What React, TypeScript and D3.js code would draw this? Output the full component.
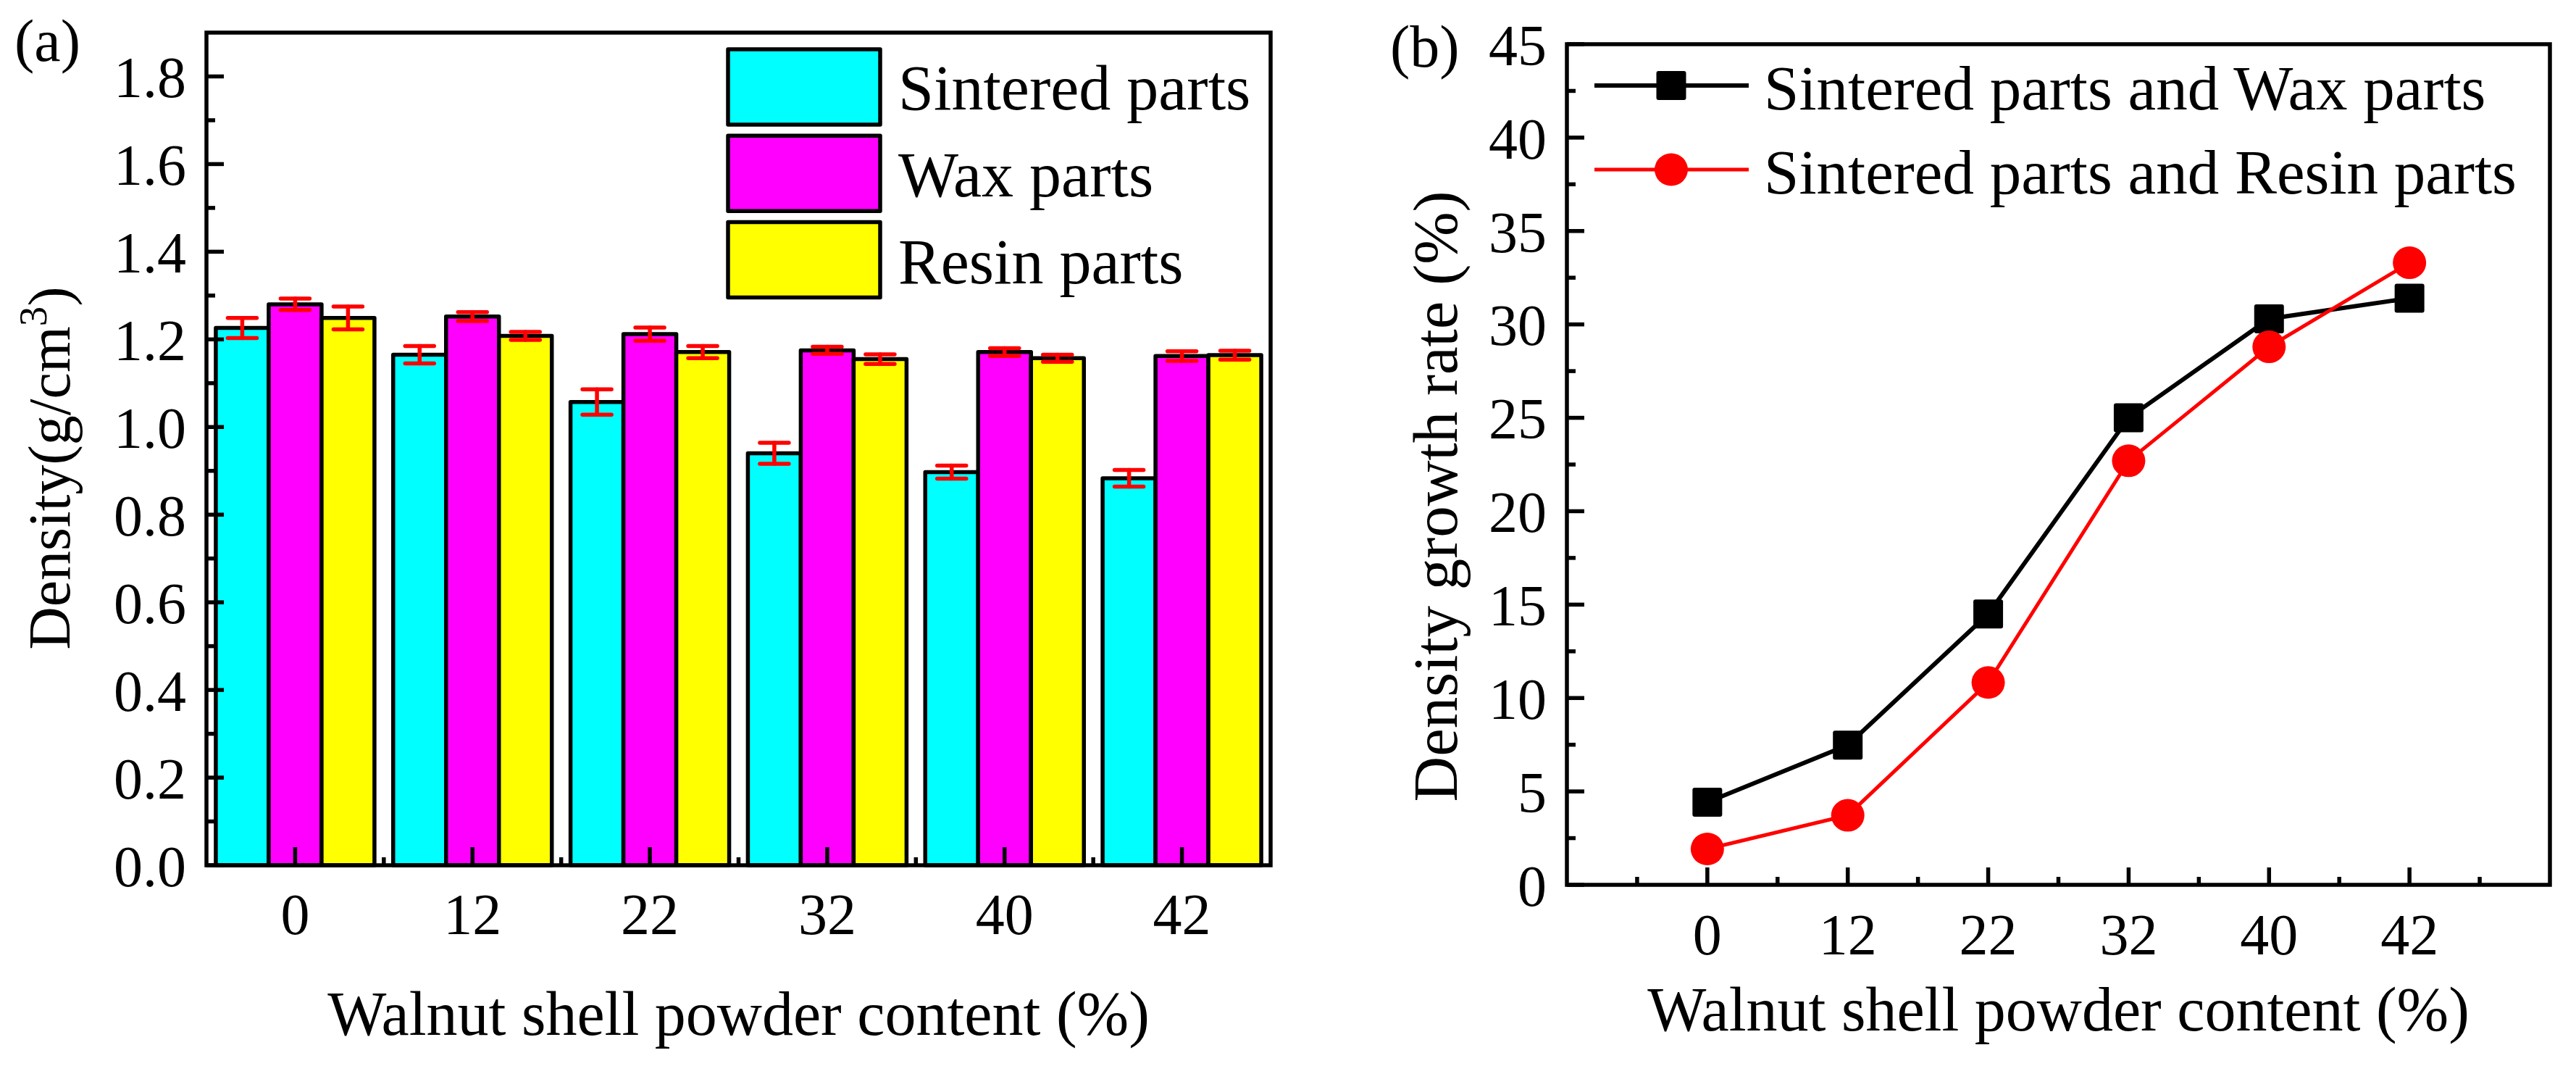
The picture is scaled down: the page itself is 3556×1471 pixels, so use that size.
import React from "react";
import * as d3 from "d3";

const categories = ["0", "12", "22", "32", "40", "42"];
const seriesNames = ["Sintered parts", "Wax parts", "Resin parts"];
const seriesColors = ["#00ffff", "#ff00ff", "#ffff00"];
const sinteredVals = [1.226, 1.165, 1.057, 0.94, 0.897, 0.883];
const sinteredErr = [0.023, 0.02, 0.029, 0.024, 0.015, 0.019];
const waxVals = [1.28, 1.252, 1.212, 1.175, 1.171, 1.162];
const waxErr = [0.013, 0.01, 0.015, 0.008, 0.009, 0.011];
const resinVals = [1.249, 1.208, 1.171, 1.155, 1.157, 1.164];
const resinErr = [0.026, 0.009, 0.014, 0.011, 0.008, 0.01];
const yTicksA = [0, 0.2, 0.4, 0.6, 0.8, 1.0, 1.2, 1.4, 1.6, 1.8];
const yMinorA = [0.1, 0.3, 0.5, 0.7, 0.9, 1.1, 1.3, 1.5, 1.7];

const lineNames = ["Sintered parts and Wax parts", "Sintered parts and Resin parts"];
const waxGrowth = [4.42, 7.48, 14.5, 25.0, 30.3, 31.4];
const resinGrowth = [1.92, 3.72, 10.83, 22.7, 28.8, 33.3];
const yTicksB = [0, 5, 10, 15, 20, 25, 30, 35, 40, 45];
const yMinorB = [2.5, 7.5, 12.5, 17.5, 22.5, 27.5, 32.5, 37.5, 42.5];

const FONT = "'Liberation Serif', 'Times New Roman', serif";

export default function App() {
  // Panel (a)
  const aL = 285, aR = 1754, aT = 45, aB = 1194;
  const yA = d3.scaleLinear().domain([0, 1.9]).range([aB, aT]);
  const xA = d3.scaleBand<string>().domain(categories).range([aL, aR]).paddingInner(0).paddingOuter(0);
  const bw = 73;
  const seriesVals = [sinteredVals, waxVals, resinVals];
  const seriesErr = [sinteredErr, waxErr, resinErr];

  // Panel (b)
  const bL = 2163, bR = 3520, bT = 61, bB = 1221;
  const yB = d3.scaleLinear().domain([0, 45]).range([bB, bT]);
  const xB = d3.scaleLinear().domain([-1, 6]).range([bL, bR]);
  const idx = categories.map((_, i) => i);
  const minorXB = [-0.5, 0.5, 1.5, 2.5, 3.5, 4.5, 5.5];
  const line = d3.line<number>().x((_, i) => xB(i)).y((d) => yB(d));

  const sw = 5.5;

  return (
    <svg
      width={3556}
      height={1471}
      style={{ position: "absolute", left: 0, top: 0, display: "block", background: "#fff" }}
      fontFamily={FONT}
    >
      <rect x={0} y={0} width={3556} height={1471} fill="#fff" />
      {/* ===== Panel (a) ===== */}
      <text x={20} y={84} fontSize={82}>(a)</text>
      {categories.map((c, gi) => {
        const center = (xA(c) as number) + xA.bandwidth() / 2;
        return (
          <g key={c}>
            {seriesVals.map((vals, si) => {
              const x0 = center - 1.5 * bw + si * bw;
              return (
                <rect
                  key={si}
                  x={x0}
                  y={yA(vals[gi])}
                  width={bw}
                  height={yA(0) - yA(vals[gi])}
                  fill={seriesColors[si]}
                  stroke="#000"
                  strokeWidth={sw}
                  strokeLinejoin="round"
                />
              );
            })}
            {seriesVals.map((vals, si) => {
              const cx = center - bw + si * bw;
              const hi = yA(vals[gi] + seriesErr[si][gi]);
              const lo = yA(vals[gi] - seriesErr[si][gi]);
              return (
                <g key={"e" + si} stroke="#ff0000" strokeWidth={5.5} strokeLinecap="round">
                  <line x1={cx} x2={cx} y1={hi} y2={lo} />
                  <line x1={cx - 20} x2={cx + 20} y1={hi} y2={hi} />
                  <line x1={cx - 20} x2={cx + 20} y1={lo} y2={lo} />
                </g>
              );
            })}
          </g>
        );
      })}
      <rect x={aL} y={aT} width={aR - aL} height={aB - aT} fill="none" stroke="#000" strokeWidth={sw} />
      {yTicksA.map((t) => (
        <g key={t}>
          <line x1={aL} x2={aL + 24} y1={yA(t)} y2={yA(t)} stroke="#000" strokeWidth={sw} />
          <text x={257} y={yA(t)} dy="0.36em" fontSize={80} textAnchor="end">
            {t.toFixed(1)}
          </text>
        </g>
      ))}
      {yMinorA.map((t) => (
        <line key={t} x1={aL} x2={aL + 12} y1={yA(t)} y2={yA(t)} stroke="#000" strokeWidth={sw} />
      ))}
      {categories.map((c) => {
        const cx = (xA(c) as number) + xA.bandwidth() / 2;
        return (
          <g key={c}>
            <line x1={cx} x2={cx} y1={aB} y2={aB - 25} stroke="#000" strokeWidth={sw} />
            <text x={cx} y={1289} fontSize={80} textAnchor="middle">{c}</text>
          </g>
        );
      })}
      {categories.slice(1).map((c) => (
        <line key={c} x1={xA(c) as number} x2={xA(c) as number} y1={aB} y2={aB - 11} stroke="#000" strokeWidth={sw} />
      ))}
      <text x={(aL + aR) / 2} y={1428} fontSize={86} textAnchor="middle">
        Walnut shell powder content (%)
      </text>
      <text transform={`translate(96, 646) rotate(-90)`} fontSize={82} textAnchor="middle">
        Density(g/cm<tspan fontSize={55} dy={-32}>3</tspan><tspan dy={32}>)</tspan>
      </text>
      {seriesNames.map((n, i) => (
        <g key={n}>
          <rect
            x={1005}
            y={68 + i * 119.3}
            width={210}
            height={104}
            fill={seriesColors[i]}
            stroke="#000"
            strokeWidth={sw}
            strokeLinejoin="round"
          />
          <text x={1240} y={151 + i * 120} fontSize={88}>{n}</text>
        </g>
      ))}

      {/* ===== Panel (b) ===== */}
      <text x={1919} y={92} fontSize={82}>(b)</text>
      <rect x={bL} y={bT} width={bR - bL} height={bB - bT} fill="none" stroke="#000" strokeWidth={sw} />
      {yTicksB.map((t) => (
        <g key={t}>
          <line x1={bL} x2={bL + 24} y1={yB(t)} y2={yB(t)} stroke="#000" strokeWidth={sw} />
          <text x={2135} y={yB(t)} dy="0.36em" fontSize={80} textAnchor="end">{t}</text>
        </g>
      ))}
      {yMinorB.map((t) => (
        <line key={t} x1={bL} x2={bL + 12} y1={yB(t)} y2={yB(t)} stroke="#000" strokeWidth={sw} />
      ))}
      {idx.map((i) => (
        <g key={i}>
          <line x1={xB(i)} x2={xB(i)} y1={bB} y2={bB - 24} stroke="#000" strokeWidth={sw} />
          <text x={xB(i)} y={1317} fontSize={80} textAnchor="middle">{categories[i]}</text>
        </g>
      ))}
      {minorXB.map((v) => (
        <line key={v} x1={xB(v)} x2={xB(v)} y1={bB} y2={bB - 11} stroke="#000" strokeWidth={sw} />
      ))}
      <text x={(bL + bR) / 2} y={1422} fontSize={86} textAnchor="middle">
        Walnut shell powder content (%)
      </text>
      <text transform={`translate(2011, 685) rotate(-90)`} fontSize={87} textAnchor="middle">
        Density growth rate (%)
      </text>
      <path d={line(waxGrowth) || ""} fill="none" stroke="#000" strokeWidth={6} />
      {waxGrowth.map((v, i) => (
        <rect key={i} x={xB(i) - 20.5} y={yB(v) - 20} width={41} height={40} rx={3} fill="#000" />
      ))}
      <path d={line(resinGrowth) || ""} fill="none" stroke="#ff0000" strokeWidth={5} />
      {resinGrowth.map((v, i) => (
        <ellipse key={i} cx={xB(i)} cy={yB(v)} rx={23} ry={22.5} fill="#ff0000" />
      ))}
      <line x1={2201} x2={2414} y1={118} y2={118} stroke="#000" strokeWidth={6} />
      <rect x={2307 - 20.5} y={118 - 20} width={41} height={40} rx={3} fill="#000" />
      <text x={2435} y={151} fontSize={87}>{lineNames[0]}</text>
      <line x1={2201} x2={2414} y1={234} y2={234} stroke="#ff0000" strokeWidth={5} />
      <ellipse cx={2307} cy={234} rx={23} ry={22.5} fill="#ff0000" />
      <text x={2435} y={267} fontSize={87}>{lineNames[1]}</text>
    </svg>
  );
}
